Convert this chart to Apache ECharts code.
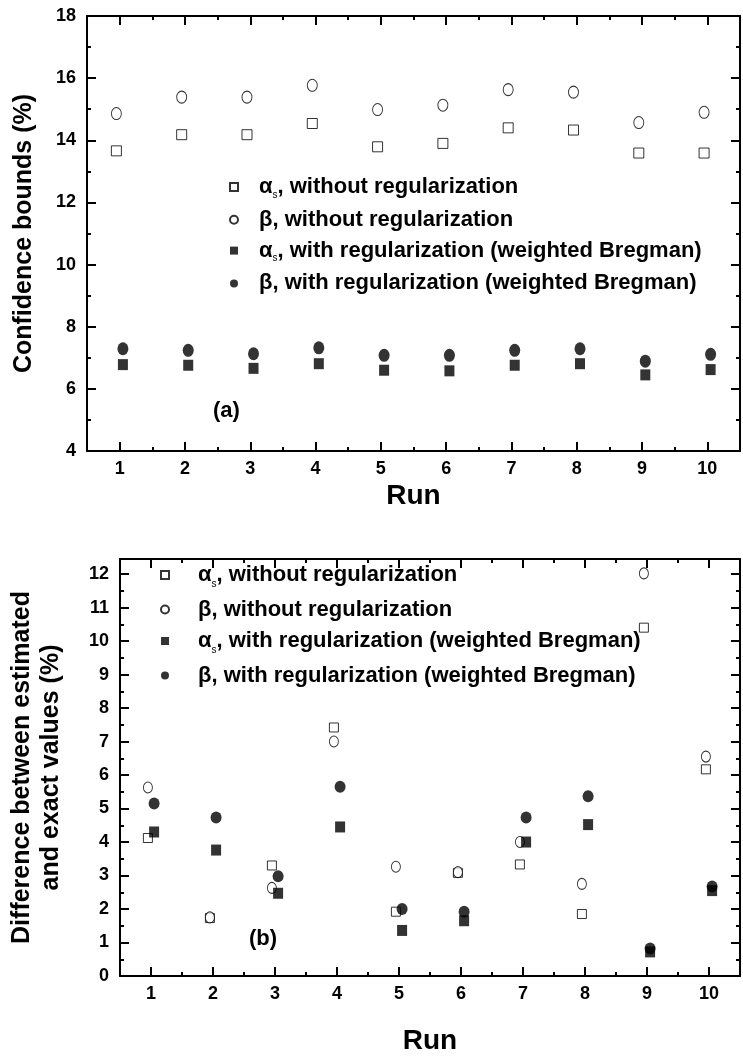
<!DOCTYPE html>
<html>
<head>
<meta charset="utf-8">
<script src="https://cdn.jsdelivr.net/npm/echarts@6/dist/echarts.min.js"></script>
<style>
  html, body { margin: 0; padding: 0; background: #fff; }
  #chart { width: 743px; height: 1056px; }
</style>
</head>
<body>
<div id="chart"></div>
<script>
  // x axis: run number
  var runs = [1, 2, 3, 4, 5, 6, 7, 8, 9, 10];

  // (a) confidence bounds (%)
  var boundAlphaNoReg = [13.66, 14.18, 14.18, 14.54, 13.79, 13.90, 14.40, 14.33, 13.59, 13.59];
  var boundBetaNoReg  = [14.86, 15.39, 15.39, 15.77, 14.99, 15.13, 15.63, 15.55, 14.57, 14.90];
  var boundAlphaReg   = [6.78, 6.76, 6.66, 6.81, 6.60, 6.58, 6.76, 6.81, 6.45, 6.62];
  var boundBetaReg    = [7.29, 7.24, 7.13, 7.32, 7.08, 7.08, 7.24, 7.29, 6.89, 7.11];

  // (b) difference between estimated and exact values (%)
  var diffAlphaNoReg = [4.12, 1.73, 3.30, 7.42, 1.92, 3.08, 3.33, 1.85, 10.40, 6.17];
  var diffBetaNoReg  = [5.63, 1.75, 2.63, 7.00, 3.26, 3.10, 4.00, 2.75, 12.02, 6.55];
  var diffAlphaReg   = [4.30, 3.76, 2.47, 4.45, 1.36, 1.65, 4.00, 4.52, 0.72, 2.55];
  var diffBetaReg    = [5.15, 4.73, 2.98, 5.65, 2.00, 1.92, 4.73, 5.37, 0.82, 2.67];

  var seriesNames = ['aN', 'bN', 'aR', 'bR'];

  var ARIAL = '"Liberation Sans", Arial, sans-serif';

  var chart = echarts.init(document.getElementById('chart'), null, { renderer: 'canvas' });

  // open markers sit a little left of the run, filled ones a little right
  function pts(values, shift) {
    return runs.map(function (r, i) { return [r + shift, values[i]]; });
  }

  function intOnly(v) {
    return Math.abs(v - Math.round(v)) < 1e-6 ? String(Math.round(v)) : '';
  }

  var lineStyle = { color: '#000', width: 2 };
  var tickStyle = { color: '#000', width: 2 };

  function xAxis(grid, pos, showLabel) {
    return {
      type: 'value', gridIndex: grid, position: pos,
      min: 0.5, max: 10.5, splitNumber: 10, minInterval: 1, maxInterval: 1,
      name: showLabel ? 'Run' : '',
      nameLocation: 'middle', nameGap: grid === 0 ? 31 : 51,
      nameTextStyle: { fontFamily: ARIAL, fontWeight: 'bold', fontSize: 28, color: '#000' },
      axisLine: { show: true, onZero: false, lineStyle: lineStyle },
      axisTick: { show: true, inside: true, length: 9, lineStyle: tickStyle },
      minorTick: { show: true, splitNumber: 2, length: 4, lineStyle: tickStyle },
      axisLabel: { show: showLabel, margin: 9, formatter: intOnly,
        fontFamily: ARIAL, fontWeight: 'bold', fontSize: 18, color: '#000' },
      splitLine: { show: false }
    };
  }

  function yAxis(grid, pos, showLabel, min, max, interval, name, gap, nameStyle) {
    return {
      type: 'value', gridIndex: grid, position: pos,
      min: min, max: max, interval: interval,
      name: showLabel ? name : '',
      nameLocation: 'middle', nameRotate: 90, nameGap: gap,
      nameTextStyle: nameStyle,
      axisLine: { show: true, onZero: false, lineStyle: lineStyle },
      axisTick: { show: true, inside: true, length: 9, lineStyle: tickStyle },
      minorTick: { show: true, splitNumber: 2, length: 4, lineStyle: tickStyle },
      axisLabel: { show: showLabel, margin: 11, formatter: intOnly,
        fontFamily: ARIAL, fontWeight: 'bold', fontSize: 18, color: '#000' },
      splitLine: { show: false }
    };
  }

  function series(name, grid, values, open, isCircle, small) {
    var size;
    if (isCircle) size = open ? (small ? [9, 11] : [10, 12]) : (small ? [11, 12] : [11, 13]);
    else size = open ? (small ? 9 : 10) : [10, 11];
    return {
      name: name, type: 'scatter', xAxisIndex: grid * 2, yAxisIndex: grid * 2,
      symbol: isCircle ? 'circle' : 'rect', symbolSize: size,
      itemStyle: open ? { color: '#fff', borderColor: '#000', borderWidth: 1 } : { color: '#000' },
      data: pts(values, open ? -0.05 : 0.05),
      silent: true
    };
  }

  function legend(left, top, gap, size, lineH, pad) {
    var text = {
      aN: '{g|}{a|α}{s|s}{t|, without regularization}',
      bN: '{g|}{t|β, without regularization}',
      aR: '{g|}{a|α}{s|s}{t|, with regularization (weighted Bregman)}',
      bR: '{g|}{t|β, with regularization (weighted Bregman)}'
    };
    return {
      data: seriesNames, orient: 'vertical', left: left, top: top,
      itemGap: gap, itemWidth: 8, itemHeight: 8, padding: 0,
      selectedMode: false,
      formatter: function (n) { return text[n]; },
      textStyle: {
        rich: {
          g: { width: pad, lineHeight: lineH },
          a: { fontFamily: ARIAL, fontWeight: 'bold', fontSize: size, color: '#000', lineHeight: lineH },
          s: { fontFamily: ARIAL, fontSize: 10, color: '#000', verticalAlign: 'bottom', lineHeight: 10 },
          t: { fontFamily: ARIAL, fontWeight: 'bold', fontSize: size, color: '#000', lineHeight: lineH }
        }
      }
    };
  }

  var topName = { fontFamily: ARIAL, fontWeight: 'bold', fontSize: 25, color: '#000' };
  var bottomName = { fontFamily: ARIAL, fontWeight: 'bold', fontSize: 25, color: '#000', lineHeight: 29 };

  chart.setOption({
    animation: false,
    backgroundColor: '#fff',
    grid: [
      { left: 87, right: 2, top: 16, height: 435 },
      { left: 119, right: 2, top: 559, height: 417 }
    ],
    xAxis: [
      xAxis(0, 'bottom', true), xAxis(0, 'top', false),
      xAxis(1, 'bottom', true), xAxis(1, 'top', false)
    ],
    yAxis: [
      yAxis(0, 'left', true, 4, 18, 2, 'Confidence bounds (%)', 50, topName),
      yAxis(0, 'right', false, 4, 18, 2, '', 0, topName),
      yAxis(1, 'left', true, 0, 12.45, 1, 'Difference between estimated\nand exact values (%)', 54, bottomName),
      yAxis(1, 'right', false, 0, 12.45, 1, '', 0, bottomName)
    ],
    legend: [
      legend(229, 176, 8.8, 22, 26, 16),
      legend(160, 564, 9.5, 22, 28, 24)
    ],
    graphic: [
      { type: 'text', left: 213, top: 400,
        style: { text: '(a)', fontFamily: ARIAL, fontWeight: 'bold', fontSize: 22, fill: '#000' } },
      { type: 'text', left: 249, top: 928,
        style: { text: '(b)', fontFamily: ARIAL, fontWeight: 'bold', fontSize: 22, fill: '#000' } }
    ],
    series: [
      series('aN', 0, boundAlphaNoReg, true, false),
      series('bN', 0, boundBetaNoReg, true, true),
      series('aR', 0, boundAlphaReg, false, false),
      series('bR', 0, boundBetaReg, false, true),
      series('aN', 1, diffAlphaNoReg, true, false, true),
      series('bN', 1, diffBetaNoReg, true, true, true),
      series('aR', 1, diffAlphaReg, false, false, true),
      series('bR', 1, diffBetaReg, false, true, true)
    ]
  });
</script>
</body>
</html>
